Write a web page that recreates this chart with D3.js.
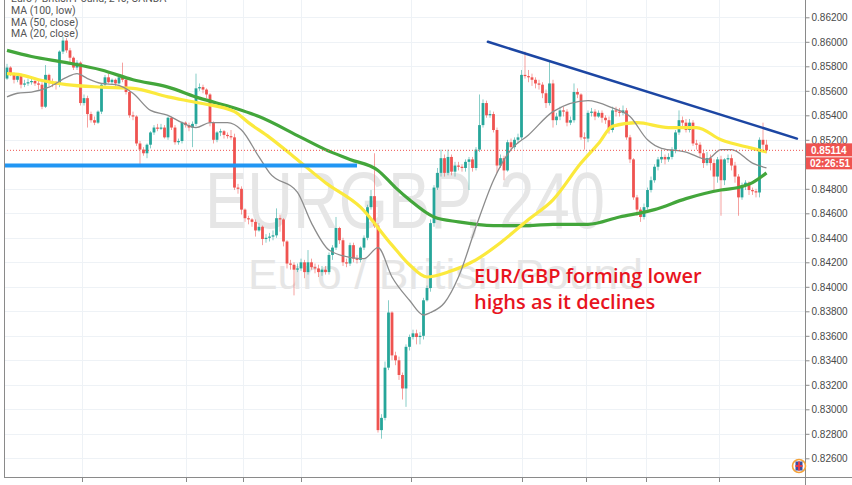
<!DOCTYPE html>
<html><head><meta charset="utf-8">
<script src="https://cdn.jsdelivr.net/npm/d3@7/dist/d3.min.js"></script>
<style>body{margin:0;background:#fff}svg{display:block}</style>
</head><body>
<svg id="c" width="852" height="485"></svg>
<script>
// ---------- DATA (EUR/GBP, 240 min candles) ----------
const firstOpen = 0.8570;
const closes = [
.8579,.8574,.8569,.8572,.8565,.8566,.8567,.8568,.8566,.8565,
.8547,.8573,.8567,.8566,.8565,.8592,.8601,.8593,.8587,.8579,
.8583,.8550,.8554,.8541,.8536,.8534,.8543,.8565,.8571,.8567,
.8569,.8566,.8571,.8569,.8559,.8540,.8539,.8517,.8512,.8509,
.8516,.8526,.8530,.8529,.8530,.8522,.8538,.8530,.8518,.8519,
.8534,.8532,.8530,.8533,.8562,.8563,.8561,.8557,.8534,.8520,
.8526,.8527,.8524,.8523,.8522,.8481,.8480,.8463,.8456,.8455,
.8453,.8446,.8449,.8439,.8440,.8441,.8442,.8456,.8455,.8437,
.8419,.8418,.8414,.8415,.8420,.8412,.8420,.8416,.8415,.8412,
.8414,.8412,.8426,.8432,.8448,.8438,.8420,.8419,.8434,.8423,
.8422,.8432,.8440,.8465,.8474,.8450,.8283,.8293,.8334,.8379,
.8344,.8340,.8328,.8317,.8351,.8359,.8362,.8359,.8360,.8389,
.8399,.8452,.8481,.8493,.8505,.8493,.8506,.8494,.8499,.8498,
.8497,.8502,.8504,.8497,.8512,.8532,.8550,.8540,.8541,.8528,
.8499,.8505,.8495,.8518,.8514,.8520,.8522,.8573,.8572,.8571,
.8569,.8566,.8565,.8558,.8550,.8566,.8536,.8539,.8544,.8543,
.8534,.8536,.8559,.8557,.8522,.8521,.8542,.8543,.8539,.8542,
.8538,.8536,.8528,.8544,.8543,.8542,.8544,.8522,.8504,.8473,
.8463,.8457,.8465,.8479,.8487,.8498,.8504,.8506,.8504,.8506,
.8512,.8526,.8536,.8534,.8528,.8534,.8517,.8516,.8509,.8501,
.8505,.8501,.8490,.8504,.8487,.8504,.8505,.8499,.8490,.8473,
.8483,.8485,.8479,.8478,.8477,.8520,.8516,.85114];
const highs = [
.8582,.8580,.8575,.8574,.8574,.8569,.8570,.8570,.8570,.8569,
.8567,.8581,.8574,.8570,.8568,.8593,.8604,.8603,.8595,.8588,
.8585,.8584,.8557,.8556,.8543,.8539,.8544,.8566,.8573,.8574,
.8570,.8570,.8573,.8583,.8570,.8561,.8543,.8540,.8519,.8514,
.8517,.8527,.8532,.8533,.8533,.8532,.8539,.8539,.8532,.8521,
.8535,.8535,.8534,.8535,.8574,.8566,.8565,.8562,.8558,.8535,
.8527,.8529,.8528,.8526,.8528,.8525,.8484,.8482,.8464,.8458,
.8456,.8455,.8452,.8450,.8443,.8444,.8446,.8464,.8459,.8456,
.8438,.8422,.8420,.8419,.8423,.8422,.8430,.8423,.8419,.8418,
.8417,.8417,.8428,.8434,.8457,.8449,.8440,.8423,.8436,.8436,
.8426,.8433,.8442,.8467,.8479,.8509,.8452,.8296,.8339,.8389,
.8380,.8347,.8343,.8330,.8353,.8361,.8365,.8365,.8363,.8391,
.8401,.8455,.8483,.8497,.8512,.8508,.8512,.8508,.8502,.8502,
.8500,.8504,.8506,.8506,.8514,.8557,.8553,.8552,.8544,.8543,
.8530,.8508,.8507,.8520,.8521,.8522,.8525,.8577,.8592,.8577,
.8574,.8571,.8569,.8567,.8561,.8585,.8569,.8542,.8547,.8547,
.8545,.8539,.8566,.8562,.8558,.8526,.8544,.8546,.8545,.8544,
.8544,.8540,.8539,.8547,.8547,.8546,.8548,.8546,.8524,.8505,
.8475,.8465,.8468,.8481,.8490,.8500,.8506,.8512,.8508,.8509,
.8514,.8528,.8544,.8539,.8537,.8537,.8536,.8520,.8518,.8512,
.8510,.8508,.8504,.8506,.8507,.8505,.8508,.8508,.8502,.8492,
.8485,.8487,.8486,.8481,.8480,.8522,.8534,.8520];
const lows = [
.8569,.8572,.8566,.8567,.8562,.8563,.8564,.8565,.8564,.8561,
.8545,.8546,.8564,.8563,.8561,.8563,.8590,.8591,.8583,.8577,
.8577,.8548,.8548,.8530,.8534,.8532,.8533,.8541,.8562,.8566,
.8565,.8564,.8565,.8567,.8557,.8538,.8536,.8515,.8500,.8507,
.8505,.8513,.8524,.8527,.8528,.8521,.8520,.8528,.8516,.8516,
.8517,.8530,.8527,.8514,.8531,.8560,.8558,.8554,.8531,.8517,
.8518,.8523,.8521,.8521,.8520,.8479,.8476,.8459,.8453,.8451,
.8449,.8441,.8445,.8434,.8436,.8437,.8438,.8440,.8445,.8433,
.8415,.8414,.8393,.8412,.8413,.8407,.8410,.8414,.8411,.8408,
.8409,.8410,.8410,.8422,.8430,.8435,.8417,.8416,.8417,.8420,
.8419,.8420,.8430,.8438,.8463,.8448,.8281,.8276,.8291,.8332,
.8340,.8336,.8324,.8308,.8302,.8348,.8357,.8353,.8353,.8357,
.8388,.8396,.8449,.8479,.8490,.8490,.8491,.8491,.8490,.8495,
.8494,.8494,.8479,.8494,.8495,.8510,.8530,.8538,.8538,.8526,
.8493,.8497,.8487,.8494,.8512,.8512,.8517,.8520,.8570,.8567,
.8564,.8562,.8561,.8554,.8546,.8548,.8530,.8532,.8536,.8539,
.8531,.8532,.8534,.8554,.8520,.8512,.8518,.8539,.8536,.8538,
.8534,.8533,.8525,.8526,.8539,.8539,.8540,.8520,.8501,.8471,
.8458,.8453,.8455,.8463,.8477,.8485,.8495,.8501,.8500,.8502,
.8504,.8509,.8524,.8531,.8526,.8526,.8515,.8512,.8505,.8497,
.8499,.8495,.8479,.8485,.8458,.8483,.8501,.8495,.8485,.8458,
.8471,.8479,.8475,.8475,.8473,.8473,.8512,.8509];

// moving averages (candle index, value)
const ma100Idx = [0,7,17,27,36,46,55,65,72,84,91,98,106,111,115,122,129,139,149,156,166,175,185,194,204,209,213,217];
const ma100Val = [.8593,.8588,.8583,.8577,.8569,.8563,.8554,.8546,.8539,.8522,.8512,.8504,.8495,.8481,.8471,.8457,.8453,.8450,.8450,.8451,.8451,.8457,.8463,.8472,.8479,.8481,.8485,.8493];
const ma50Idx = [0,4,9,17,27,36,46,55,65,69,75,82,91,101,110,115,120,126,134,141,149,156,164,169,173,180,189,197,204,213,217];
const ma50Val = [.8574,.8573,.8569,.8565,.8563,.8562,.8555,.8550,.8543,.8534,.8522,.8506,.8485,.8465,.8434,.8418,.8408,.8412,.8422,.8436,.8455,.8471,.8501,.8517,.8531,.8534,.8530,.8530,.8520,.8513,.8510];
const ma20Idx = [0,3,7,12,17,20,23,27,31,36,41,46,50,54,58,63,67,72,75,83,87,92,98,102,106,110,115,119,121,125,129,134,139,144,149,156,166,173,178,183,187,194,200,204,207,213,217];
const ma20Val = [.8555,.8558,.8559,.8563,.8571,.8574,.8570,.8566,.8565,.8558,.8544,.8540,.8534,.8530,.8534,.8534,.8528,.8506,.8493,.8477,.8452,.8430,.8424,.8423,.8432,.8408,.8389,.8377,.8379,.8387,.8408,.8449,.8487,.8512,.8524,.8543,.8552,.8546,.8539,.8520,.8513,.8510,.8504,.8512,.8512,.8501,.8497];

// drawn lines
const supportLevel = 0.8499;
const supportIdx = [-1, 100];
const trendIdx = [137.4, 225.7];
const trendVal = [0.8600, 0.8521];
const lastPrice = 0.85114;
const lastPriceText = "0.85114";
const countdownText = "02:26:51";

// ticks
const priceTicks = d3.range(0, 19).map(k => +(0.826 + k * 0.002).toFixed(3));
const timeGridIdx = [21.5, 51, 67.5, 84, 115.5, 147, 165.5, 182.5, 203.5];

const legendLines = ["Euro / British Pound, 240, OANDA", "MA (100, low)", "MA (50, close)", "MA (20, close)"];
const annotationLines = ["EUR/GBP forming lower", "highs as it declines"];
const watermark1 = "EURGBP, 240";
const watermark2 = "Euro / British Pound";

// ---------- DRAW ----------
const svg = d3.select('#c');
const P = {l: 4, r: 805, t: 0, b: 477};
const x = d3.scaleLinear().domain([0, closes.length - 1]).range([7, 766.5]);
const y = d3.scaleLinear().domain([0.826, 0.862]).range([458.3, 17.3]);

svg.append('rect').attr('width', 852).attr('height', 485).attr('fill', '#fff');
svg.append('clipPath').attr('id', 'clip').append('rect')
  .attr('x', P.l).attr('y', P.t).attr('width', P.r - P.l).attr('height', P.b - P.t);

const plot = svg.append('g').attr('clip-path', 'url(#clip)');

// grid
plot.selectAll('.hg').data(priceTicks).join('line')
  .attr('x1', P.l).attr('x2', P.r).attr('y1', d => Math.round(y(d)) + 0.5).attr('y2', d => Math.round(y(d)) + 0.5)
  .attr('stroke', '#eef2f6').attr('stroke-width', 1);
plot.selectAll('.vg').data(timeGridIdx).join('line')
  .attr('x1', d => Math.round(x(d)) + 0.5).attr('x2', d => Math.round(x(d)) + 0.5).attr('y1', P.t).attr('y2', P.b)
  .attr('stroke', '#eef2f6').attr('stroke-width', 1);

// watermark
plot.append('text').text(watermark1)
  .attr('x', 205).attr('y', 228).attr('font-family', 'Liberation Sans, Arial, sans-serif')
  .attr('font-size', 80).attr('fill', '#e6e6e6').attr('textLength', 400).attr('lengthAdjust', 'spacingAndGlyphs');
plot.append('text').text(watermark2)
  .attr('x', 248).attr('y', 289).attr('font-family', 'Liberation Sans, Arial, sans-serif')
  .attr('font-size', 42).attr('fill', '#e6e6e6').attr('textLength', 395).attr('lengthAdjust', 'spacingAndGlyphs');

// candles
const candles = closes.map((c, i) => {
  const o = i === 0 ? firstOpen : closes[i - 1];
  return {i, o, c, h: Math.max(highs[i], o, c), l: Math.min(lows[i], o, c)};
});
const GREEN = '#26a69a', RED = '#ef5350';
const cg = plot.append('g');
cg.selectAll('.wick').data(candles).join('line')
  .attr('x1', d => x(d.i)).attr('x2', d => x(d.i))
  .attr('y1', d => y(d.h)).attr('y2', d => y(d.l))
  .attr('stroke', d => d.c >= d.o ? GREEN : RED).attr('stroke-opacity', 0.55).attr('stroke-width', 1);
cg.selectAll('.body').data(candles).join('rect')
  .attr('x', d => x(d.i) - 1.4).attr('width', 2.8)
  .attr('y', d => y(Math.max(d.o, d.c)))
  .attr('height', d => Math.max(1, Math.abs(y(d.o) - y(d.c))))
  .attr('fill', d => d.c >= d.o ? GREEN : RED);

// MAs
const line = d3.line().x(d => x(d[0])).y(d => y(d[1])).curve(d3.curveMonotoneX);
plot.append('path').attr('d', line(d3.zip(ma100Idx, ma100Val)))
  .attr('fill', 'none').attr('stroke', '#43a63b').attr('stroke-width', 3.2).attr('stroke-linejoin', 'round');
plot.append('path').attr('d', line(d3.zip(ma50Idx, ma50Val)))
  .attr('fill', 'none').attr('stroke', '#fbe93c').attr('stroke-width', 3.2).attr('stroke-linejoin', 'round');
plot.append('path').attr('d', line(d3.zip(ma20Idx, ma20Val)))
  .attr('fill', 'none').attr('stroke', '#8c8c8c').attr('stroke-width', 1.3).attr('stroke-linejoin', 'round');

// last price dotted line
plot.append('line').attr('x1', P.l).attr('x2', P.r).attr('y1', y(lastPrice)).attr('y2', y(lastPrice))
  .attr('stroke', RED).attr('stroke-width', 1).attr('stroke-dasharray', '1,2');

// support line
plot.append('line').attr('x1', x(supportIdx[0])).attr('x2', x(supportIdx[1]))
  .attr('y1', y(supportLevel)).attr('y2', y(supportLevel))
  .attr('stroke', '#2196f3').attr('stroke-width', 4);

// trend line
plot.append('line').attr('x1', x(trendIdx[0])).attr('x2', x(trendIdx[1]))
  .attr('y1', y(trendVal[0])).attr('y2', y(trendVal[1]))
  .attr('stroke', '#1c46a3').attr('stroke-width', 2.5).attr('stroke-linecap', 'round');

// legend
legendLines.forEach((t, k) => {
  svg.append('text').text(t).attr('x', 11).attr('y', 2 + k * 11.8)
    .attr('font-family', 'Roboto, Liberation Sans, sans-serif').attr('font-size', 10.5).attr('fill', '#555');
});

// annotation
annotationLines.forEach((t, k) => {
  svg.append('text').text(t).attr('x', 474).attr('y', 283 + k * 26)
    .attr('font-family', 'Open Sans, sans-serif').attr('font-weight', 600)
    .attr('font-size', 20).attr('fill', '#e8141e');
});

// frame
svg.append('line').attr('x1', P.l + 0.5).attr('x2', P.l + 0.5).attr('y1', 0).attr('y2', P.b).attr('stroke', '#8a8a8a');
svg.append('line').attr('x1', P.r + 0.5).attr('x2', P.r + 0.5).attr('y1', 0).attr('y2', 485).attr('stroke', '#8a8a8a');
svg.append('line').attr('x1', P.l).attr('x2', 852).attr('y1', P.b + 0.5).attr('y2', P.b + 0.5).attr('stroke', '#8a8a8a');
svg.selectAll('.bt').data(timeGridIdx).join('line')
  .attr('x1', d => Math.round(x(d)) + 0.5).attr('x2', d => Math.round(x(d)) + 0.5)
  .attr('y1', P.b).attr('y2', P.b + 5).attr('stroke', '#8a8a8a');

// y axis
const yAxis = d3.axisRight(y).tickValues(priceTicks).tickSize(4).tickPadding(2).tickFormat(d3.format('.5f'));
const ga = svg.append('g').attr('transform', `translate(${P.r + 0.5},0)`).call(yAxis);
ga.select('.domain').remove();
ga.selectAll('line').attr('stroke', '#8a8a8a');
ga.selectAll('text').attr('font-family', 'Liberation Sans, Arial, sans-serif').attr('font-size', 10).attr('fill', '#4a4a4a');

// last price labels
svg.append('rect').attr('x', P.r + 1).attr('y', y(lastPrice) - 7).attr('width', 852 - P.r).attr('height', 13).attr('fill', RED);
svg.append('text').text(lastPriceText).attr('x', 811).attr('y', y(lastPrice) + 3.5)
  .attr('font-family', 'Liberation Sans, Arial, sans-serif').attr('font-size', 10).attr('font-weight', 'bold').attr('fill', '#fff');
svg.append('rect').attr('x', P.r + 1).attr('y', y(lastPrice) + 7).attr('width', 852 - P.r).attr('height', 12).attr('fill', RED);
svg.append('text').text(countdownText).attr('x', 810).attr('y', y(lastPrice) + 16.5)
  .attr('font-family', 'Liberation Sans, Arial, sans-serif').attr('font-size', 10).attr('font-weight', 'bold').attr('fill', '#fff');

// flag icon
const fg = svg.append('g').attr('transform', 'translate(799,466)');
fg.append('circle').attr('r', 6.5).attr('fill', '#fff').attr('stroke', '#f5a33a').attr('stroke-width', 1.6);
fg.append('rect').attr('x', -3.5).attr('y', -4.5).attr('width', 7).attr('height', 9).attr('fill', '#3b4fa0');
fg.append('rect').attr('x', -1).attr('y', -4.5).attr('width', 2).attr('height', 9).attr('fill', '#e23c4a');
fg.append('rect').attr('x', -3.5).attr('y', -1).attr('width', 7).attr('height', 2).attr('fill', '#e23c4a');
</script>
</body></html>
